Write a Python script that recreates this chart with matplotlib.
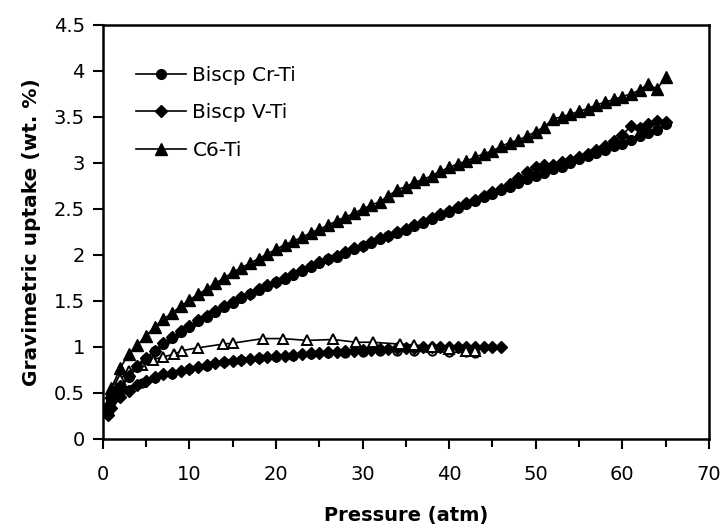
import matplotlib.pyplot as plt
from matplotlib.ticker import MultipleLocator

plt.rcParams['font.family'] = ['DejaVu Sans']

# C6-Ti, upper isotherm (filled triangles)
c6_p = [0.5, 1, 2, 3, 4, 5, 6, 7, 8, 9, 10, 11, 12, 13, 14, 15, 16, 17, 18, 19,
        20, 21, 22, 23, 24, 25, 26, 27, 28, 29, 30, 31, 32, 33, 34, 35, 36, 37, 38, 39,
        40, 41, 42, 43, 44, 45, 46, 47, 48, 49, 50, 51, 52, 53, 54, 55, 56, 57, 58, 59,
        60, 61, 62, 63, 64, 65]
c6_up = [0.35, 0.55, 0.77, 0.92, 1.02, 1.12, 1.22, 1.30, 1.37, 1.44, 1.51, 1.57, 1.63, 1.69,
         1.75, 1.81, 1.86, 1.91, 1.96, 2.01, 2.06, 2.11, 2.15, 2.19, 2.24, 2.28, 2.32, 2.37,
         2.41, 2.45, 2.50, 2.54, 2.58, 2.64, 2.71, 2.74, 2.79, 2.82, 2.86, 2.91, 2.95, 2.99,
         3.02, 3.06, 3.10, 3.13, 3.18, 3.22, 3.25, 3.29, 3.34, 3.39, 3.48, 3.50, 3.53, 3.56,
         3.59, 3.63, 3.66, 3.69, 3.72, 3.75, 3.79, 3.86, 3.80, 3.93]

# Biscp Cr-Ti, upper isotherm (filled circles)
cr_p = c6_p
cr_up = [0.30, 0.42, 0.55, 0.67, 0.78, 0.87, 0.95, 1.03, 1.10, 1.16, 1.22, 1.28, 1.33, 1.38,
         1.43, 1.48, 1.53, 1.58, 1.62, 1.66, 1.70, 1.74, 1.78, 1.83, 1.87, 1.91, 1.95, 1.98,
         2.02, 2.06, 2.10, 2.13, 2.17, 2.20, 2.24, 2.27, 2.31, 2.35, 2.39, 2.43, 2.47, 2.51,
         2.55, 2.59, 2.63, 2.66, 2.70, 2.74, 2.78, 2.82, 2.86, 2.89, 2.93, 2.96, 3.00, 3.04,
         3.07, 3.11, 3.14, 3.18, 3.21, 3.25, 3.29, 3.33, 3.36, 3.42]

# Biscp V-Ti, upper isotherm (filled diamonds)
v_p = c6_p
v_up = [0.35, 0.44, 0.57, 0.68, 0.79, 0.88, 0.96, 1.04, 1.11, 1.17, 1.23, 1.29, 1.34, 1.39,
        1.44, 1.49, 1.54, 1.58, 1.63, 1.67, 1.71, 1.75, 1.79, 1.84, 1.88, 1.92, 1.96, 1.99,
        2.03, 2.07, 2.10, 2.14, 2.18, 2.21, 2.25, 2.28, 2.32, 2.36, 2.40, 2.44, 2.48, 2.52,
        2.56, 2.60, 2.64, 2.68, 2.72, 2.77, 2.84, 2.90, 2.95, 2.98, 2.98, 3.01, 3.03, 3.06,
        3.10, 3.14, 3.18, 3.24, 3.30, 3.40, 3.38, 3.42, 3.46, 3.44]

# lower isotherms (open symbols / small diamonds)
cr_lo_p = [0.5, 1, 1.5, 3, 4.5, 6, 8, 10, 12, 14, 16, 18, 20, 22, 24, 26, 28, 30,
           32, 34, 36, 38, 40, 42, 43]
cr_lo = [0.33, 0.40, 0.46, 0.53, 0.61, 0.66, 0.71, 0.76, 0.79, 0.83, 0.86, 0.88, 0.89,
         0.90, 0.92, 0.93, 0.93, 0.94, 0.95, 0.95, 0.95, 0.95, 0.94, 0.94, 0.93]

v_lo_p = [0.6, 1, 2, 3, 4, 5, 6, 7, 8, 9, 10, 11, 12, 13, 14, 15, 16, 17, 18, 19, 20,
          21, 22, 23, 24, 25, 26, 27, 28, 29, 30, 31, 32, 33, 34, 35, 36, 37, 38, 39,
          40, 41, 42, 43, 44, 45, 46]
v_lo = [0.26, 0.33, 0.45, 0.52, 0.58, 0.63, 0.67, 0.70, 0.72, 0.74, 0.76, 0.78, 0.80,
        0.82, 0.83, 0.85, 0.86, 0.87, 0.88, 0.89, 0.90, 0.90, 0.91, 0.92, 0.93, 0.93,
        0.94, 0.94, 0.95, 0.96, 0.97, 0.97, 0.98, 0.98, 0.99, 0.99, 0.99, 1.00, 1.00,
        1.00, 1.00, 1.00, 1.00, 1.00, 1.00, 1.00, 1.00]

c6_lo_p = [0.5, 1, 2, 3, 4.5, 5.8, 6.9, 8.2, 9.2, 11, 13.9, 15, 18.5, 20.8, 23.6, 26.6,
           29.3, 31.2, 34.3, 36, 38, 40, 42, 43]
c6_lo = [0.35, 0.50, 0.65, 0.74, 0.80, 0.86, 0.89, 0.92, 0.96, 0.99, 1.03, 1.04, 1.09,
         1.09, 1.07, 1.08, 1.05, 1.05, 1.03, 1.02, 1.00, 0.98, 0.96, 0.95]

fig = plt.figure(figsize=(7.24, 5.30), dpi=100)
ax = fig.add_axes([0.142, 0.172, 0.837, 0.781])

line_kw = dict(color='black', lw=1.2)
ax.plot(cr_lo_p, cr_lo, marker='o', ms=6, mfc='white', mec='black', mew=1.4, **line_kw)
ax.plot(v_lo_p, v_lo, marker='D', ms=6, mfc='black', mec='black', **line_kw)
ax.plot(c6_lo_p, c6_lo, marker='^', ms=7, mfc='white', mec='black', mew=1.4, **line_kw)

ax.plot(cr_p, cr_up, marker='o', ms=7, mfc='black', mec='black', label='Biscp Cr-Ti', **line_kw)
ax.plot(v_p, v_up, marker='D', ms=6.5, mfc='black', mec='black', label='Biscp V-Ti', **line_kw)
ax.plot(c6_p, c6_up, marker='^', ms=8, mfc='black', mec='black', label='C6-Ti', **line_kw)

ax.set_xlim(0, 70)
ax.set_ylim(0, 4.5)
ax.xaxis.set_major_locator(MultipleLocator(10))
ax.xaxis.set_minor_locator(MultipleLocator(5))
ax.set_yticks([0, 0.5, 1, 1.5, 2, 2.5, 3, 3.5, 4, 4.5])
ax.set_yticklabels(['0', '0.5', '1', '1.5', '2', '2.5', '3', '3.5', '4', '4.5'])
ax.tick_params(which='both', direction='out', width=1.5, labelsize=14)
ax.tick_params(which='major', length=7)
ax.tick_params(which='minor', length=6)
ax.tick_params(axis='x', pad=12)
ax.tick_params(axis='y', pad=6)
for s in ax.spines.values():
    s.set_linewidth(1.8)

ax.set_xlabel('Pressure (atm)', fontsize=14, fontweight='bold', labelpad=16)
ax.set_ylabel('Gravimetric uptake (wt. %)', fontsize=14.5, fontweight='bold', labelpad=9)

ax.legend(loc='upper left', bbox_to_anchor=(0.025, 0.945), frameon=False, fontsize=14.5,
          handlelength=2.5, labelspacing=0.92, handletextpad=0.3)

fig.savefig('out.png', dpi=100)
